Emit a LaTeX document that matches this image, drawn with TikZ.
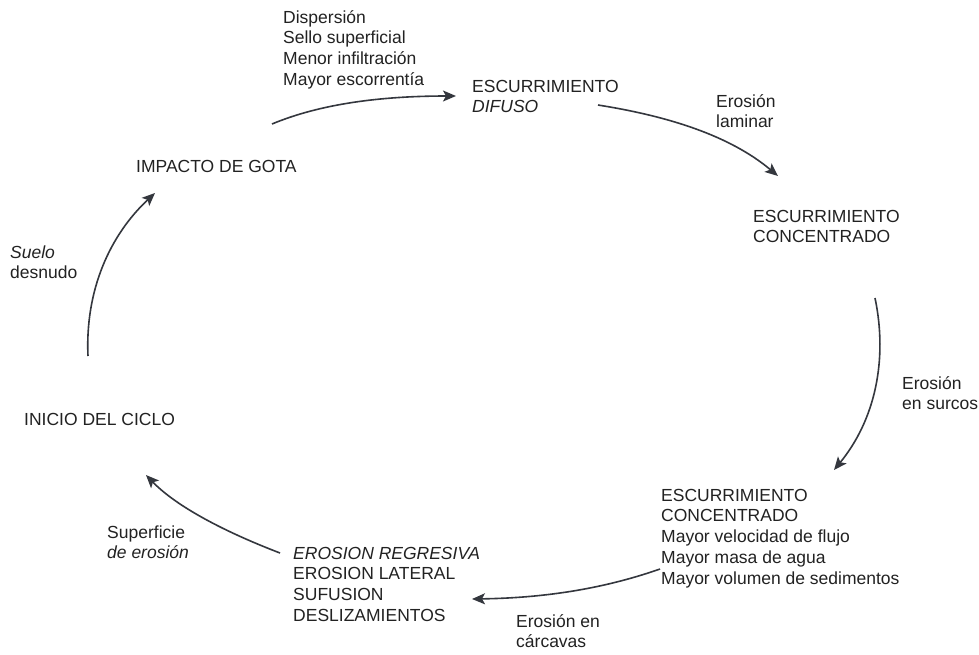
\documentclass[tikz,border=0pt]{standalone}
\usepackage{fontspec}
\setmainfont{Liberation Sans}
\usetikzlibrary{arrows.meta}
\definecolor{ink}{HTML}{222222}
\definecolor{stroke}{HTML}{34373e}
\begin{document}
\begin{tikzpicture}[x=1pt,y=-1pt,
  lbl/.style={anchor=north west,inner sep=0pt,align=left,text=ink,
    font=\fontsize{17.5}{20.7}\selectfont},
  one/.style={anchor=west,inner sep=0pt,text=ink,
    font=\fontsize{17.5}{20.7}\selectfont},
  flow/.style={draw=stroke,line width=1.6pt,
    -{Stealth[length=13pt,width=11pt,inset=3pt]}}]
\useasboundingbox[fill=white] (0,0) rectangle (979,654);
\newcommand{\fl}{\rule{0pt}{14pt}}

% stages of the cycle
\node[one] (impacto) at (136,166) {IMPACTO DE GOTA};
\node[lbl] (difuso) at (472,78) {\fl ESCURRIMIENTO\\\textit{DIFUSO}};
\node[lbl] (conc) at (753,208) {\fl ESCURRIMIENTO\\CONCENTRADO};
\node[lbl] (conc2) at (661,487) {\fl ESCURRIMIENTO\\CONCENTRADO\\Mayor velocidad de flujo\\Mayor masa de agua\\Mayor volumen de sedimentos};
\node[lbl] (regres) at (293,545) {\fl\textit{EROSION REGRESIVA}\\EROSION LATERAL\\SUFUSION\\DESLIZAMIENTOS};
\node[one] (inicio) at (24,419) {INICIO DEL CICLO};

% processes along the arrows
\node[lbl] (disp) at (283,9) {\fl Dispersión\\Sello superficial\\Menor infiltración\\Mayor escorrentía};
\node[lbl] (laminar) at (716,93) {\fl Erosión\\laminar};
\node[lbl] (surcos) at (902,375) {\fl Erosión\\en surcos};
\node[lbl] (carcavas) at (516,613) {\fl Erosión en\\cárcavas};
\node[lbl] (superf) at (107,524) {\fl Superficie\\\textit{de erosión}};
\node[lbl] (suelo) at (10,244) {\fl\textit{Suelo}\\desnudo};

% arrow ends
\coordinate (a1s) at (272,124); \coordinate (a1e) at (456,96);
\coordinate (a2s) at (598,105); \coordinate (a2e) at (778,176);
\coordinate (a3s) at (875,298); \coordinate (a3e) at (834,470);
\coordinate (a4s) at (660,569); \coordinate (a4e) at (472,599);
\coordinate (a5s) at (280,553); \coordinate (a5e) at (146,475);
\coordinate (a6s) at (88,356);  \coordinate (a6e) at (155,193);

\draw[flow] (a1s) .. controls (320,104) and (380,96) .. (a1e);
\draw[flow] (a2s) .. controls (680,118) and (735,140) .. (a2e);
\draw[flow] (a3s) .. controls (888,360) and (875,420) .. (a3e);
\draw[flow] (a4s) .. controls (600,590) and (540,598) .. (a4e);
\draw[flow] (a5s) .. controls (220,530) and (175,505) .. (a5e);
\draw[flow] (a6s) .. controls (85,290) and (110,235) .. (a6e);
\end{tikzpicture}
\end{document}
